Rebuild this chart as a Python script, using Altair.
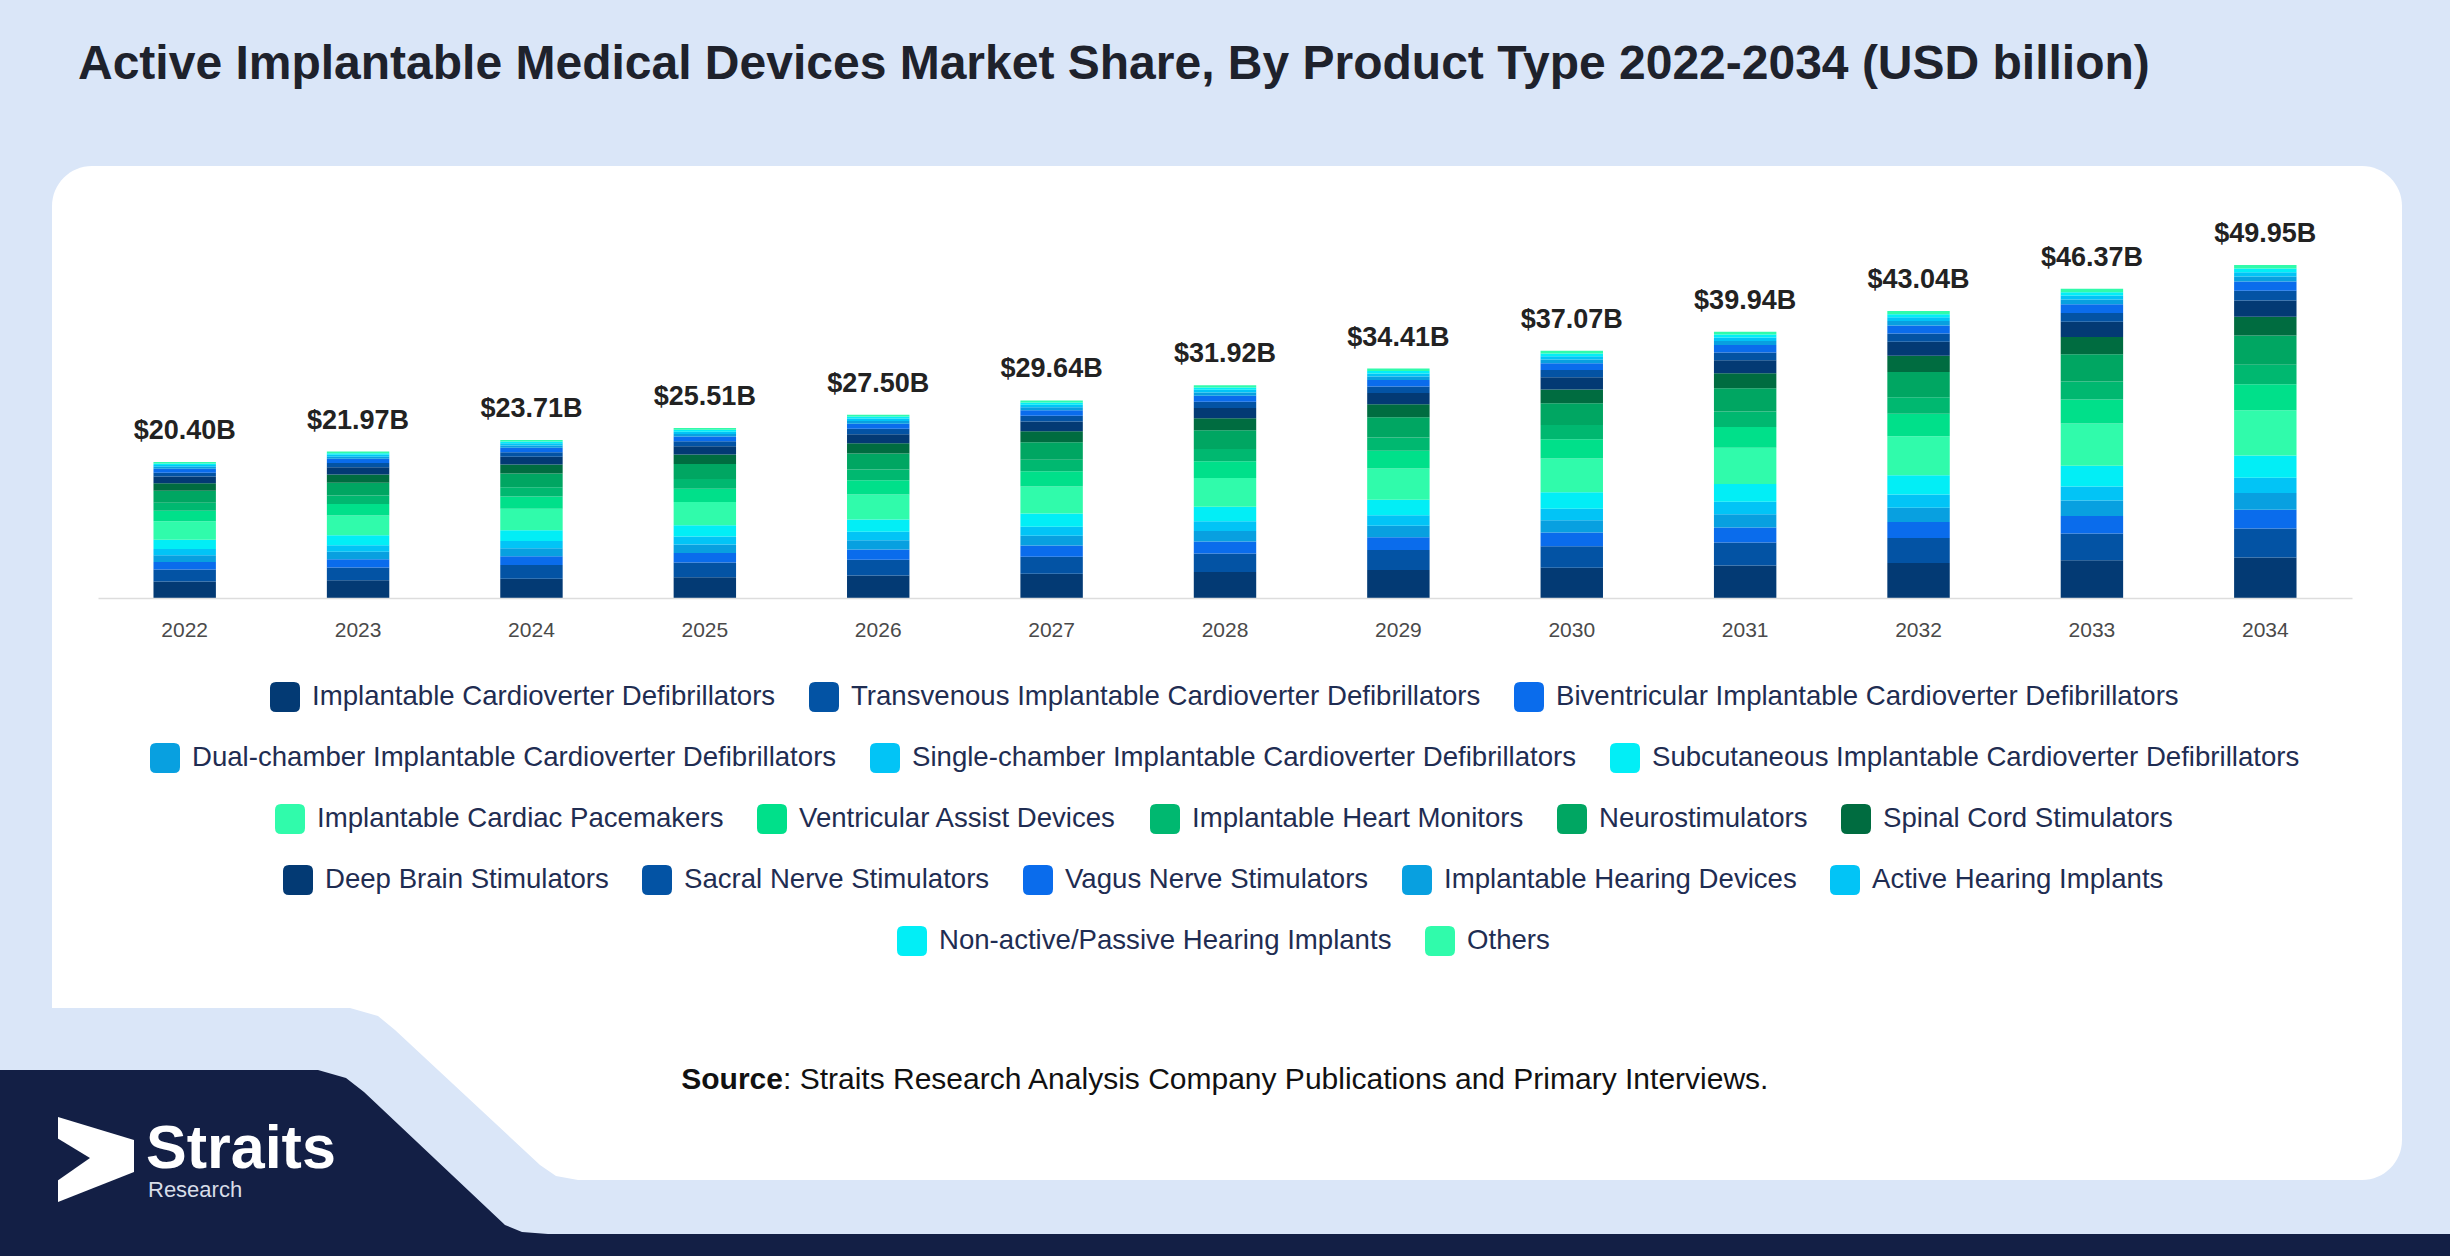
import altair as alt
import pandas as pd

# ---------------------------------------------------------------------------
# Market size by product type, USD billion
# ---------------------------------------------------------------------------
years = [str(y) for y in range(2022, 2035)]

icd = [2.49, 2.68, 2.89, 3.11, 3.36, 3.62, 3.89, 4.20, 4.52, 4.87, 5.25, 5.66, 6.09]
transvenous_icd = [1.77, 1.91, 2.06, 2.22, 2.39, 2.58, 2.78, 2.99, 3.23, 3.47, 3.74, 4.03, 4.35]
biventricular_icd = [1.14, 1.23, 1.33, 1.43, 1.54, 1.66, 1.79, 1.93, 2.08, 2.24, 2.41, 2.60, 2.80]
dual_chamber_icd = [1.02, 1.10, 1.19, 1.28, 1.38, 1.48, 1.60, 1.72, 1.85, 2.00, 2.15, 2.32, 2.50]
single_chamber_icd = [0.94, 1.01, 1.09, 1.17, 1.27, 1.36, 1.47, 1.58, 1.71, 1.84, 1.98, 2.13, 2.30]
subcutaneous_icd = [1.37, 1.47, 1.59, 1.71, 1.84, 1.99, 2.14, 2.31, 2.48, 2.68, 2.88, 3.11, 3.35]
pacemakers = [2.77, 2.99, 3.22, 3.47, 3.74, 4.03, 4.34, 4.68, 5.04, 5.43, 5.85, 6.31, 6.79]
assist_devices = [1.59, 1.71, 1.85, 1.99, 2.15, 2.31, 2.49, 2.68, 2.89, 3.12, 3.36, 3.62, 3.90]
heart_monitors = [1.18, 1.27, 1.38, 1.48, 1.60, 1.72, 1.85, 2.00, 2.15, 2.32, 2.50, 2.69, 2.90]
neurostimulators = [1.80, 1.93, 2.09, 2.24, 2.42, 2.61, 2.81, 3.03, 3.26, 3.51, 3.79, 4.08, 4.40]
spinal_cord = [1.14, 1.23, 1.33, 1.43, 1.54, 1.66, 1.79, 1.93, 2.08, 2.24, 2.41, 2.60, 2.80]
deep_brain = [1.00, 1.08, 1.16, 1.25, 1.35, 1.45, 1.56, 1.69, 1.82, 1.96, 2.11, 2.27, 2.45]
sacral_nerve = [0.59, 0.64, 0.69, 0.74, 0.80, 0.86, 0.93, 1.00, 1.08, 1.16, 1.25, 1.34, 1.45]
vagus_nerve = [0.57, 0.62, 0.66, 0.71, 0.77, 0.83, 0.89, 0.96, 1.04, 1.12, 1.21, 1.30, 1.40]
hearing_devices = [0.31, 0.33, 0.36, 0.38, 0.41, 0.44, 0.48, 0.52, 0.56, 0.60, 0.65, 0.70, 0.75]
active_hearing = [0.27, 0.29, 0.31, 0.33, 0.36, 0.39, 0.41, 0.45, 0.48, 0.52, 0.56, 0.60, 0.65]
passive_hearing = [0.22, 0.24, 0.26, 0.28, 0.30, 0.33, 0.35, 0.38, 0.41, 0.44, 0.47, 0.51, 0.55]
others = [0.23, 0.24, 0.25, 0.29, 0.28, 0.32, 0.35, 0.36, 0.39, 0.42, 0.47, 0.50, 0.52]

series_names = [
    "Implantable Cardioverter Defibrillators",
    "Transvenous Implantable Cardioverter Defibrillators",
    "Biventricular Implantable Cardioverter Defibrillators",
    "Dual-chamber Implantable Cardioverter Defibrillators",
    "Single-chamber Implantable Cardioverter Defibrillators",
    "Subcutaneous Implantable Cardioverter Defibrillators",
    "Implantable Cardiac Pacemakers",
    "Ventricular Assist Devices",
    "Implantable Heart Monitors",
    "Neurostimulators",
    "Spinal Cord Stimulators",
    "Deep Brain Stimulators",
    "Sacral Nerve Stimulators",
    "Vagus Nerve Stimulators",
    "Implantable Hearing Devices",
    "Active Hearing Implants",
    "Non-active/Passive Hearing Implants",
    "Others",
]
series_values = [
    icd, transvenous_icd, biventricular_icd, dual_chamber_icd, single_chamber_icd,
    subcutaneous_icd, pacemakers, assist_devices, heart_monitors, neurostimulators,
    spinal_cord, deep_brain, sacral_nerve, vagus_nerve, hearing_devices,
    active_hearing, passive_hearing, others,
]
series_colors = [
    "#033a74", "#0353a4", "#0a6cec", "#08a0e0", "#02c4f6", "#02eef6",
    "#30fbab", "#00e08a", "#00b870", "#00a662", "#006c40",
    "#033a74", "#0353a4", "#0a6cec", "#08a0e0", "#02c4f6", "#02eef6", "#30fbab",
]
# legend rows (indices into series_names)
legend_rows = [[0, 1, 2], [3, 4, 5], [6, 7, 8, 9, 10], [11, 12, 13, 14, 15], [16, 17]]

# ---------------------------------------------------------------------------
# Layout (pixels)
# ---------------------------------------------------------------------------
W, H = 2450, 1256
OX, OY = 98, 198            # plot-area origin on the canvas
PW, PH = 2254, 400          # plot-area size
FONT = "Liberation Sans"
BG = "#dae6f8"
NAVY = "#131f45"

row_of = {}
for r, idxs in enumerate(legend_rows):
    for i in idxs:
        row_of[i] = r

records = []
for i, (name, vals) in enumerate(zip(series_names, series_values)):
    for yr, v in zip(years, vals):
        records.append({"year": yr, "series": name, "order": i, "value": v, "row": row_of[i]})
df = pd.DataFrame(records)

one = pd.DataFrame({"k": [0]})


def shape_df(xs, ys, y2s):
    return pd.DataFrame({
        "px": [x - OX for x in xs],
        "py": [y - OY for y in ys],
        "py2": [y - OY for y in y2s],
    })


def area_layer(frame, color):
    return alt.Chart(frame).mark_area(color=color, orient="vertical").encode(
        x=alt.X("px:Q", scale=None, axis=None),
        y=alt.Y("py:Q", scale=None, axis=None),
        y2="py2:Q",
    )


# white card behind the chart
panel = alt.Chart(one).mark_rect(color="white", cornerRadius=40).encode(
    x=alt.value(52 - OX), x2=alt.value(2402 - OX),
    y=alt.value(166 - OY), y2=alt.value(1180 - OY),
)

# bevelled lower-left corner of the card
cut_x = [0, 350, 378, 395, 540, 556, 578, 640]
cut_y = [1008, 1008, 1016, 1030, 1165, 1176, 1180, 1180]
cut = area_layer(shape_df(cut_x, cut_y, [H] * len(cut_x)), BG)

# dark footer band with the logo block
band_x = [0, 318, 346, 364, 505, 522, 548, W]
band_y = [1070, 1070, 1078, 1092, 1225, 1232, 1234, 1234]
band = area_layer(shape_df(band_x, band_y, [H] * len(band_x)), NAVY)

# logo mark: arrow with a notch
arrow = area_layer(shape_df([58, 134], [1117, 1140], [1202, 1172]), "white")
notch = area_layer(shape_df([57, 90], [1138, 1158], [1181, 1158]), NAVY)

logo_word = alt.Chart(one).mark_text(
    text="Straits", font=FONT, fontSize=61, fontWeight="bold", color="white",
    align="left", baseline="alphabetic",
).encode(x=alt.value(146 - OX), y=alt.value(1168 - OY))
logo_sub = alt.Chart(one).mark_text(
    text="Research", font=FONT, fontSize=22, color="#d8dde8",
    align="left", baseline="top",
).encode(x=alt.value(148 - OX), y=alt.value(1180 - OY))

title = alt.Chart(one).mark_text(
    text="Active Implantable Medical Devices Market Share, By Product Type 2022-2034 (USD billion)",
    font=FONT, fontSize=48, fontWeight="bold", color="#1e222c",
    align="left", baseline="alphabetic",
).encode(x=alt.value(78 - OX), y=alt.value(79 - OY))

src_bold = alt.Chart(one).mark_text(
    text="Source", font=FONT, fontSize=30, fontWeight="bold", color="#111111",
    align="right", baseline="alphabetic",
).encode(x=alt.value(783 - OX), y=alt.value(1089 - OY))
src_rest = alt.Chart(one).mark_text(
    text=": Straits Research Analysis Company Publications and Primary Interviews.",
    font=FONT, fontSize=30, color="#111111",
    align="left", baseline="alphabetic",
).encode(x=alt.value(783 - OX), y=alt.value(1089 - OY))

# ---------------------------------------------------------------------------
# Stacked bars, one layer per legend row so each row gets its own legend
# ---------------------------------------------------------------------------
x_enc = alt.X(
    "year:N", sort=years,
    scale=alt.Scale(paddingInner=0.64, paddingOuter=0.32),
    axis=alt.Axis(
        title=None, ticks=False, labelAngle=0, grid=False, zindex=2,
        domainColor="#dddddd", domainWidth=1.5,
        labelFont=FONT, labelFontSize=21, labelColor="#4a4a4a", labelPadding=21,
    ),
)
y_scale = alt.Scale(domain=[0, 60], nice=False)

ROUNDED = ("M-0.6,-1L0.6,-1Q1,-1,1,-0.6L1,0.6Q1,1,0.6,1L-0.6,1"
           "Q-1,1,-1,0.6L-1,-0.6Q-1,-1,-0.6,-1Z")
row_left = [270, 150, 275, 283, 897]
row_mid = [697, 758, 819, 880, 941]
SYM = 30

bar_layers = []
for r, idxs in enumerate(legend_rows):
    names = [series_names[i] for i in idxs]
    cols = [series_colors[i] for i in idxs]
    layer = (
        alt.Chart(df)
        .transform_stack(
            stack="value", groupby=["year"], as_=["y0", "y1"],
            sort=[alt.SortField("order", order="ascending")],
        )
        .transform_filter(alt.datum.row == r)
        .mark_bar()
        .encode(
            x=x_enc,
            y=alt.Y("y0:Q", scale=y_scale, axis=None),
            y2="y1:Q",
            color=alt.Color(
                "series:N", sort=names,
                scale=alt.Scale(domain=names, range=cols),
                legend=alt.Legend(
                    orient="none", legendX=row_left[r] - OX,
                    legendY=row_mid[r] - OY - SYM / 2,
                    direction="horizontal", columns=len(names), title=None,
                    symbolType=ROUNDED, symbolSize=SYM * SYM, symbolStrokeWidth=0,
                    labelFont=FONT, labelFontSize=27.6, labelColor="#1f2d52",
                    labelOffset=12, columnPadding=33, padding=0, labelLimit=0,
                ),
            ),
        )
    )
    bar_layers.append(layer)

totals_text = (
    alt.Chart(df)
    .transform_aggregate(total="sum(value)", groupby=["year"])
    .transform_calculate(label="'$' + format(datum.total, '.2f') + 'B'")
    .mark_text(font=FONT, fontSize=27, fontWeight="bold", color="#222222",
               baseline="alphabetic", dy=-23)
    .encode(
        x=alt.X("year:N", sort=years),
        y=alt.Y("total:Q", scale=y_scale, axis=None),
        text="label:N",
    )
)

chart = (
    alt.layer(panel, cut, band, arrow, notch, logo_word, logo_sub, title,
              src_bold, src_rest, *bar_layers, totals_text)
    .resolve_scale(color="independent")
    .properties(
        width=PW, height=PH,
        autosize=alt.AutoSizeParams(type="none"),
        padding={"left": OX, "top": OY, "right": W - OX - PW, "bottom": H - OY - PH},
        background=BG,
    )
    .configure_view(stroke=None)
)

chart.save("out.html", embed_options={"renderer": "svg", "actions": False})
